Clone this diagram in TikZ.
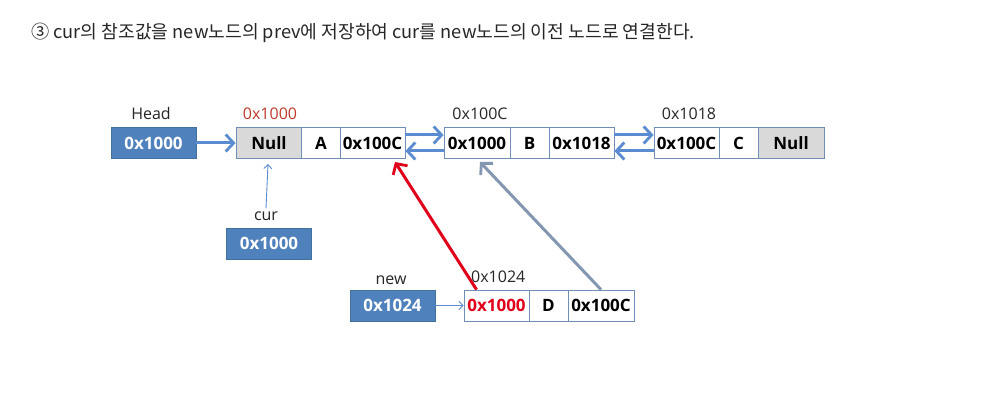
\documentclass[tikz,border=0pt]{standalone}
\usepackage{fontspec}
\setmainfont{Open Sans}
\newfontfamily\kr{Noto Sans CJK KR}
\usetikzlibrary{arrows.meta}
\definecolor{boxblue}{HTML}{4F81BD}
\definecolor{boxedge}{HTML}{41719C}
\definecolor{celledge}{HTML}{6F8FB8}
\definecolor{arrblue}{HTML}{5B8BD0}
\definecolor{cellgray}{HTML}{D9D9D9}
\definecolor{redarr}{HTML}{E0001B}
\definecolor{redlbl}{HTML}{C0392B}
\definecolor{grayarr}{HTML}{8497B0}
\definecolor{txt}{HTML}{262626}
\tikzset{
  cell/.style={draw=celledge, line width=0.8pt, fill=white, minimum height=31pt, inner sep=0pt, font=\fontsize{17}{19}\selectfont\bfseries, text=black},
  graycell/.style={cell, fill=cellgray},
  ptrbox/.style={draw=boxedge, line width=0.8pt, fill=boxblue, minimum width=85pt, minimum height=31pt, inner sep=0pt, text=white, font=\fontsize{17}{19}\selectfont\bfseries},
  lbl/.style={inner sep=0pt, text=txt, font=\fontsize{16}{18}\selectfont},
  thick arrow/.style={draw=arrblue, line width=3pt, -{Straight Barb[length=8pt,width=17pt,line width=2.8pt]}},
  thin arrow/.style={draw=arrblue, line width=0.9pt, -{Straight Barb[length=4pt,width=8pt]}},
}
\begin{document}
\begin{tikzpicture}[x=1pt,y=-1pt]
\useasboundingbox (0,0) rectangle (984,403);
\fill[white] (0,0) rectangle (984,403);
% title
\node[anchor=west, inner sep=0pt, text=txt, font=\kr\fontsize{18.2}{20}\selectfont] (title) at (31,33) {③ cur의 참조값을 new노드의 prev에 저장하여 cur를 new노드의 이전 노드로 연결한다.};
% head
\node[ptrbox] (head) at (153.5,143) {0x1000};
\node[lbl] (headlbl) at (151,114) {Head};
% node A
\node[graycell, minimum width=66pt] (a1) at (269,143) {Null};
\node[cell, minimum width=39pt] (a2) at (321,143) {A};
\node[cell, minimum width=65pt] (a3) at (372.5,143) {0x100C};
\node[lbl, text=redlbl] (albl) at (270,114) {0x1000};
% node B
\node[cell, minimum width=66pt] (b1) at (477,143) {0x1000};
\node[cell, minimum width=39pt] (b2) at (529.5,143) {B};
\node[cell, minimum width=65pt] (b3) at (581.5,143) {0x1018};
\node[lbl] (blbl) at (480,114) {0x100C};
% node C
\node[cell, minimum width=65pt] (c1) at (686.5,143) {0x100C};
\node[cell, minimum width=39pt] (c2) at (738.5,143) {C};
\node[graycell, minimum width=66pt] (c3) at (791,143) {Null};
\node[lbl] (clbl) at (689,114) {0x1018};
% cur
\node[ptrbox] (cur) at (269,243.5) {0x1000};
\node[lbl] (curlbl) at (266,216) {cur};
% new
\node[ptrbox] (new) at (392.5,305.5) {0x1024};
\node[lbl] (newlbl) at (391,280) {new};
% node D
\node[cell, minimum width=65pt, text=redarr] (d1) at (496.5,305.5) {0x1000};
\node[cell, minimum width=39pt] (d2) at (548.5,305.5) {D};
\node[cell, minimum width=66pt] (d3) at (601,305.5) {0x100C};
\node[lbl, anchor=west] (dlbl) at (471,277) {0x1024};
% connectors
\draw[thick arrow] (head.east) -- (a1.west);
\draw[thick arrow] ([yshift=8pt]a3.east) -- ([yshift=8pt]b1.west);
\draw[thick arrow] ([yshift=-8pt]b1.west) -- ([yshift=-8pt]a3.east);
\draw[thick arrow] ([yshift=8pt]b3.east) -- ([yshift=8pt]c1.west);
\draw[thick arrow] ([yshift=-8pt]c1.west) -- ([yshift=-8pt]b3.east);
\coordinate (curtip) at (268,164);
\draw[thin arrow] ([yshift=3pt]curlbl.north) -- (curtip);
\draw[thin arrow] (new.east) -- (d1.west);
\coordinate (redtip) at (395,162);
\draw[thick arrow, draw=redarr] ([xshift=-20pt]d1.north) -- (redtip);
\coordinate (graytip) at (480,162);
\draw[thick arrow, draw=grayarr] (d3.north) -- (graytip);
\end{tikzpicture}
\end{document}
